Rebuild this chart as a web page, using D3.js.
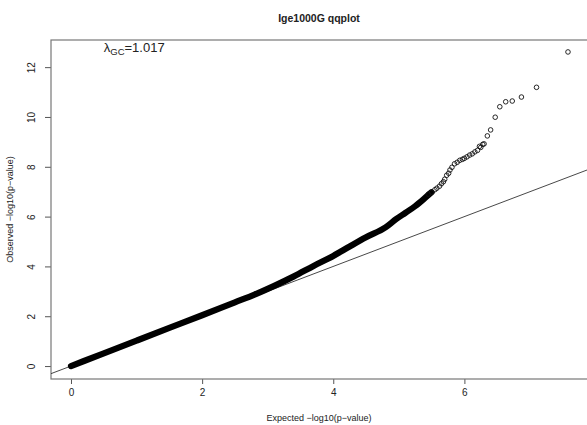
<!DOCTYPE html>
<html>
<head>
<meta charset="utf-8">
<script src="https://cdn.jsdelivr.net/npm/d3@7"></script>
<style>
  body { margin: 0; background: #fff; }
  svg { font-family: "Liberation Sans", Arial, sans-serif; display: block; }
</style>
</head>
<body>
<div class="canvas"></div>
<script>
// tick labels
const xTicks = [0, 2, 4, 6]
const yTicks = [0, 2, 4, 6, 8, 10, 12]

// dense part of the qq curve (expected, observed)
const bandExp = [0, 0.5, 1, 1.5, 2, 2.5, 2.8, 3.1, 3.4, 3.7, 4.0, 4.25, 4.5, 4.8, 4.96, 5.1, 5.25, 5.4, 5.5]
const bandObs = [0, 0.51, 1.02, 1.53, 2.04, 2.56, 2.87, 3.22, 3.6, 4.02, 4.42, 4.8, 5.17, 5.57, 5.9, 6.15, 6.42, 6.75, 6.98]

// sparse points at the top end
const tailExp = [5.45, 5.5, 5.55, 5.58, 5.62, 5.65, 5.68, 5.7, 5.73, 5.76, 5.78, 5.81, 5.85, 5.89, 5.93, 5.97, 6.0, 6.04, 6.08, 6.12, 6.16, 6.2, 6.23, 6.25, 6.28, 6.3, 6.35, 6.4, 6.47, 6.54, 6.63, 6.73, 6.87, 7.1, 7.58]
const tailObs = [6.9, 6.98, 7.08, 7.14, 7.22, 7.32, 7.4, 7.5, 7.66, 7.74, 7.87, 7.98, 8.12, 8.18, 8.26, 8.3, 8.34, 8.4, 8.47, 8.52, 8.6, 8.66, 8.82, 8.78, 8.9, 8.92, 9.24, 9.48, 9.99, 10.41, 10.61, 10.64, 10.8, 11.19, 12.61]

const lambdaGC = '1.017'

const margin = {top: 40, right: 0, bottom: 46, left: 51}
const width = 587, height = 425
const graphWidth = width - margin.left - margin.right
const graphHeight = height - margin.top - margin.bottom

const svg = d3.select('.canvas').append('svg').attr('width', width).attr('height', height)
const graph = svg.append('g').attr('transform', `translate(${margin.left},${margin.top})`)

// scales
const x = d3.scaleLinear().domain([-0.305, 7.87]).range([0, graphWidth])
const y = d3.scaleLinear().domain([-0.52, 13.09]).range([graphHeight, 0])

// axes
const xAxis = d3.axisBottom(x).tickValues(xTicks).tickSize(5).tickPadding(5).tickFormat(d3.format('d'))
const yAxis = d3.axisLeft(y).tickValues(yTicks).tickSize(6).tickPadding(5).tickFormat(d3.format('d'))

const xAxisGroup = graph.append('g').attr('transform', `translate(0,${graphHeight})`).call(xAxis)
const yAxisGroup = graph.append('g').call(yAxis)
;[xAxisGroup, yAxisGroup].forEach(g => {
  g.select('.domain').remove()
  g.selectAll('line').attr('stroke', '#555')
  g.selectAll('text').attr('font-size', 10).attr('fill', '#222')
})
yAxisGroup.selectAll('.tick text')
  .attr('text-anchor', 'middle')
  .attr('dy', null)
  .attr('transform', 'rotate(-90) translate(0,-2)')
  .attr('x', 0).attr('y', -14)

// box
graph.append('rect').attr('x', 0).attr('y', 0).attr('width', graphWidth + 1).attr('height', graphHeight)
  .attr('fill', 'none').attr('stroke', '#777').attr('stroke-width', 1.2)

// clip for plot contents
svg.append('clipPath').attr('id', 'clip').append('rect').attr('width', graphWidth).attr('height', graphHeight)
const plot = graph.append('g').attr('clip-path', 'url(#clip)')

// y = x reference line
const refLine = d3.line().x(d => x(d)).y(d => y(d))
plot.append('path').datum([-0.305, 7.87]).attr('d', refLine)
  .attr('fill', 'none').attr('stroke', '#333').attr('stroke-width', 0.9)

// dense band of overlapping points
const band = bandExp.map((e, i) => ({e, o: bandObs[i]}))
const bandLine = d3.line().x(d => x(d.e)).y(d => y(d.o)).curve(d3.curveMonotoneX)
plot.append('path').datum(band).attr('d', bandLine)
  .attr('fill', 'none').attr('stroke', '#000').attr('stroke-width', 6.2).attr('stroke-linecap', 'round')

// individual points
const tail = tailExp.map((e, i) => ({e, o: tailObs[i]}))
plot.selectAll('circle').data(tail).enter().append('circle')
  .attr('cx', d => x(d.e)).attr('cy', d => y(d.o)).attr('r', 2.3)
  .attr('fill', 'none').attr('stroke', '#111').attr('stroke-width', 0.9)

// lambda label
const lam = graph.append('text').attr('x', x(0.5)).attr('y', 12).attr('font-size', 13).attr('fill', '#222')
lam.append('tspan').text('λ')
lam.append('tspan').attr('font-size', 9.5).attr('dy', 3).text('GC')
lam.append('tspan').attr('dy', -3).text('=' + lambdaGC)

// titles
svg.append('text').attr('x', margin.left + graphWidth / 2).attr('y', 22).attr('text-anchor', 'middle')
  .attr('font-size', 10.5).attr('font-weight', 'bold').attr('fill', '#222').text('Ige1000G qqplot')
svg.append('text').attr('x', margin.left + graphWidth / 2).attr('y', 421).attr('text-anchor', 'middle')
  .attr('font-size', 9).attr('fill', '#222').text('Expected −log10(p−value)')
svg.append('text').attr('transform', `translate(13,${margin.top + graphHeight / 2}) rotate(-90)`).attr('text-anchor', 'middle')
  .attr('font-size', 9).attr('fill', '#222').text('Observed −log10(p−value)')
</script>
</body>
</html>
